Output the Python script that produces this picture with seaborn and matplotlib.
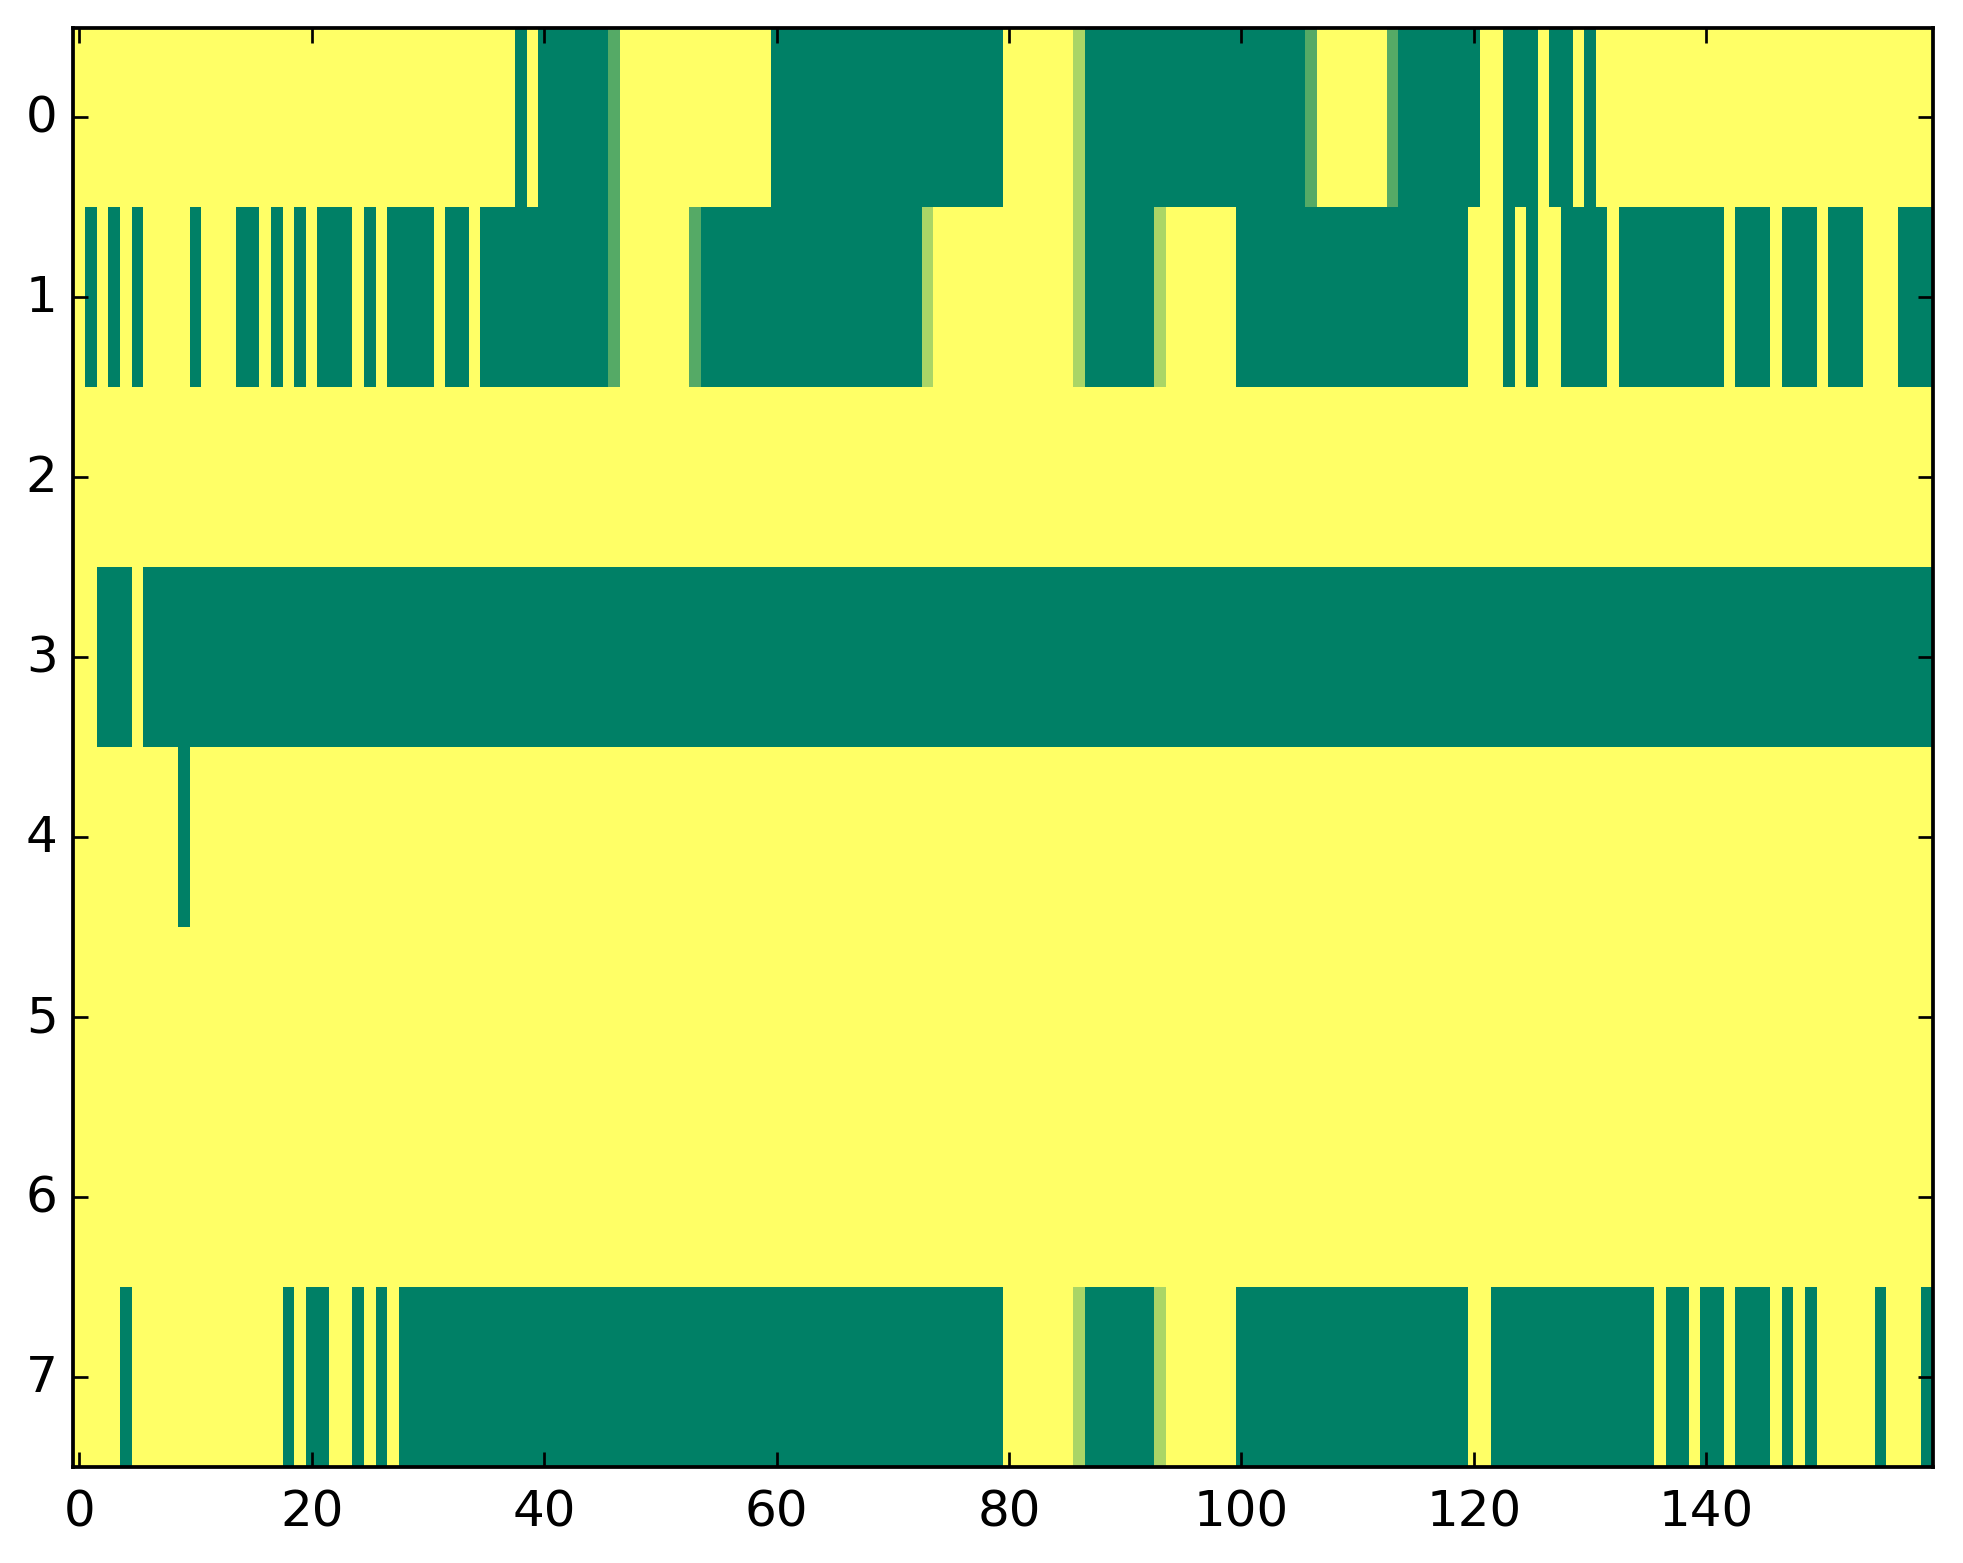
import numpy as np
import matplotlib
matplotlib.use("Agg")
import matplotlib.pyplot as plt
import seaborn as sns

# Each row given as runs of (level, count); level/3 is the cell value (0 = yellow, 1 = green)
row0 = [(0, 38), (3, 1), (0, 1), (3, 6), (2, 1), (0, 13), (3, 20), (0, 6), (1, 1),
        (3, 19), (2, 1), (0, 6), (2, 1), (3, 7), (0, 2), (3, 3), (0, 1), (3, 2),
        (0, 1), (3, 1), (0, 29)]
row1 = [(0, 1), (3, 1), (0, 1), (3, 1), (0, 1), (3, 1), (0, 4), (3, 1), (0, 3),
        (3, 2), (0, 1), (3, 1), (0, 1), (3, 1), (0, 1), (3, 3), (0, 1), (3, 1),
        (0, 1), (3, 4), (0, 1), (3, 2), (0, 1), (3, 11), (2, 1), (0, 6), (2, 1),
        (3, 19), (1, 1), (0, 12), (1, 1), (3, 6), (1, 1), (0, 6), (3, 20), (0, 3),
        (3, 1), (0, 1), (3, 1), (0, 2), (3, 4), (0, 1), (3, 9), (0, 1), (3, 3),
        (0, 1), (3, 3), (0, 1), (3, 3), (0, 3), (3, 3)]
row2 = [(0, 160)]
row3 = [(0, 2), (3, 3), (0, 1), (3, 154)]
row4 = [(0, 9), (3, 1), (0, 150)]
row5 = [(0, 160)]
row6 = [(0, 160)]
row7 = [(0, 4), (3, 1), (0, 13), (3, 1), (0, 1), (3, 2), (0, 2), (3, 1), (0, 1),
        (3, 1), (0, 1), (3, 52), (0, 6), (1, 1), (3, 6), (1, 1), (0, 6), (3, 20),
        (0, 2), (3, 14), (0, 1), (3, 2), (0, 1), (3, 2), (0, 1), (3, 3), (0, 1),
        (3, 1), (0, 1), (3, 1), (0, 5), (3, 1), (0, 3), (3, 1)]
rows = [row0, row1, row2, row3, row4, row5, row6, row7]

x_tick_values = [0, 20, 40, 60, 80, 100, 120, 140]
y_tick_values = [0, 1, 2, 3, 4, 5, 6, 7]


def expand(runs):
    levels = [lv for lv, _ in runs]
    counts = [n for _, n in runs]
    return np.repeat(levels, counts) / 3.0


data = np.vstack([expand(r) for r in rows])

W, H, DPI = 1963, 1564, 300
fig = plt.figure(figsize=(W / DPI, H / DPI), dpi=DPI)
ax = fig.add_axes([73.4 / W, 96 / H, 1859.5 / W, 1439.5 / H])

sns.heatmap(data, cmap="summer_r", vmin=0, vmax=1, cbar=False, ax=ax,
            xticklabels=False, yticklabels=False, linewidths=0)

ax.set_xticks(np.array(x_tick_values) + 0.5)
ax.set_xticklabels([str(v) for v in x_tick_values], rotation=0)
ax.set_yticks(np.array(y_tick_values) + 0.5)
ax.set_yticklabels([str(v) for v in y_tick_values], rotation=0, va="center")

for s in ax.spines.values():
    s.set_visible(True)
    s.set_linewidth(0.9)
    s.set_color("black")

ax.tick_params(axis="both", which="major", direction="in", top=True, right=True,
               bottom=True, left=True, length=3.6, width=0.65, color="black",
               labelsize=12, labelcolor="black")
ax.tick_params(axis="x", pad=5)
ax.tick_params(axis="y", pad=3.8)
ax.set_xlabel("")
ax.set_ylabel("")

fig.savefig("out.png", dpi=DPI, facecolor="white")
